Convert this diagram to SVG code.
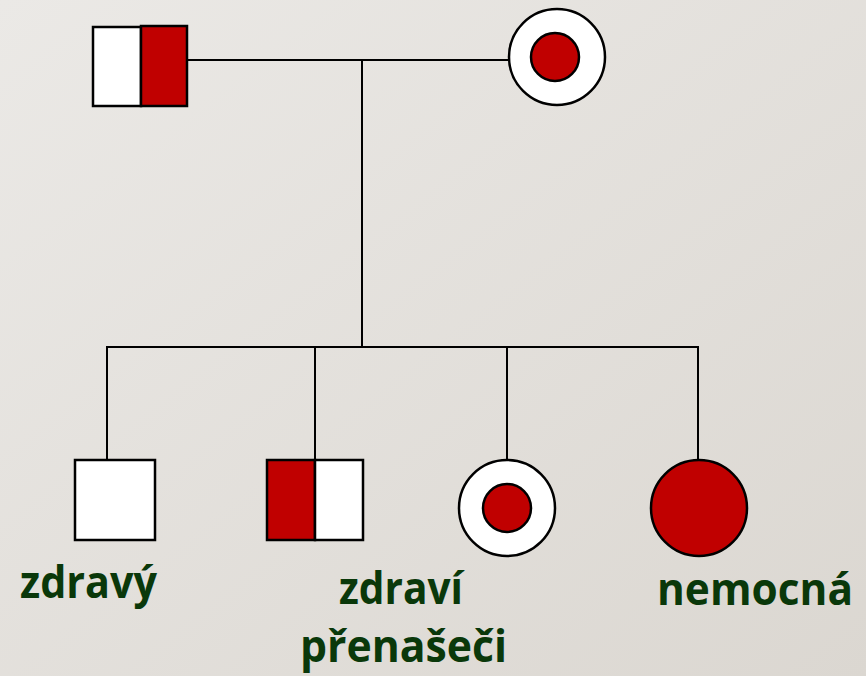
<svg xmlns="http://www.w3.org/2000/svg" width="866" height="676" viewBox="0 0 866 676">
  <defs>
    <linearGradient id="bg" x1="0" y1="0" x2="1" y2="1">
      <stop offset="0" stop-color="#ebe9e6"/>
      <stop offset="1" stop-color="#dbd7d1"/>
    </linearGradient>
  </defs>
  <style>
    .ln { stroke: #000; stroke-width: 2; fill: none; }
    .w { fill: #fff; stroke: #000; stroke-width: 2.5; }
    .r { fill: #c00000; stroke: #000; stroke-width: 2.5; }
    .lbl { font-family: "Open Sans", "Liberation Sans", sans-serif; font-weight: bold; font-size: 44px; fill: #0a380a; }
  </style>
  <rect x="0" y="0" width="866" height="676" fill="url(#bg)"/>
  <g id="connectors">
    <line class="ln" x1="187" y1="60" x2="508" y2="60"/>
    <line class="ln" x1="362" y1="60" x2="362" y2="347"/>
    <line class="ln" x1="106" y1="347" x2="699" y2="347"/>
    <line class="ln" x1="107" y1="347" x2="107" y2="459"/>
    <line class="ln" x1="315" y1="347" x2="315" y2="459"/>
    <line class="ln" x1="507" y1="347" x2="507" y2="460"/>
    <line class="ln" x1="698" y1="347" x2="698" y2="460"/>
  </g>
  <g id="father">
    <rect class="w" x="93" y="27" width="48" height="79"/>
    <rect class="r" x="141" y="26" width="46" height="80"/>
  </g>
  <g id="mother">
    <circle class="w" cx="557" cy="57" r="48"/>
    <circle class="r" cx="555" cy="57" r="24"/>
  </g>
  <g id="son-healthy">
    <rect class="w" x="75" y="460" width="80" height="80"/>
    <text class="lbl" x="20" y="598" textLength="137" lengthAdjust="spacingAndGlyphs">zdravý</text>
  </g>
  <g id="son-carrier">
    <rect class="r" x="267" y="460" width="48" height="80"/>
    <rect class="w" x="315" y="460" width="48" height="80"/>
  </g>
  <g id="daughter-carrier">
    <circle class="w" cx="507" cy="508" r="48"/>
    <circle class="r" cx="507" cy="508" r="24"/>
  </g>
  <g id="carrier-label">
    <text class="lbl" x="339" y="604" textLength="124" lengthAdjust="spacingAndGlyphs">zdraví</text>
    <text class="lbl" x="300" y="662" textLength="207" lengthAdjust="spacingAndGlyphs">přenašeči</text>
  </g>
  <g id="daughter-affected">
    <circle class="r" cx="699" cy="508" r="48"/>
    <text class="lbl" x="657" y="605" textLength="196" lengthAdjust="spacingAndGlyphs">nemocná</text>
  </g>
</svg>
